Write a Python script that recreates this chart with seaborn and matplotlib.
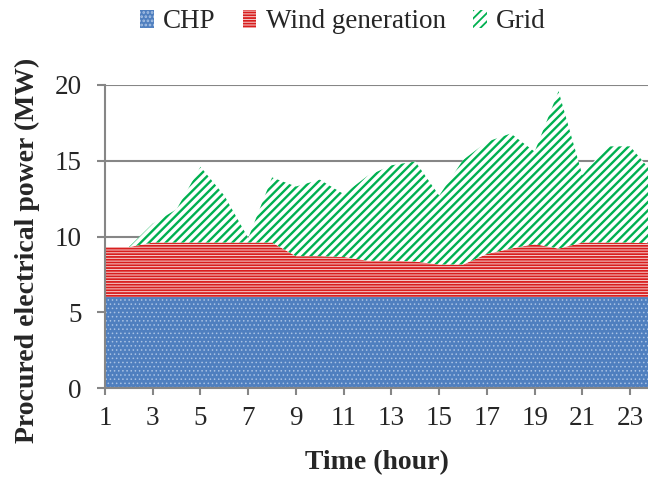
import matplotlib
matplotlib.use("Agg")
import matplotlib.pyplot as plt
import numpy as np
import pandas as pd
import seaborn as sns
from matplotlib.patches import Patch

# Hourly procurement (MW)
hours = list(range(1, 25))
chp = [6.0] * 24
wind = [3.3, 3.3, 3.6, 3.6, 3.6, 3.6, 3.6, 3.6, 2.7, 2.7, 2.65, 2.4,
        2.4, 2.35, 2.15, 2.15, 2.85, 3.2, 3.5, 3.2, 3.6, 3.6, 3.6, 3.55]
grid = [0.0, 0.0, 1.25, 2.2, 5.0, 3.1, 0.3, 4.3, 4.6, 5.05, 4.15, 5.6,
        6.3, 6.6, 4.55, 6.9, 7.4, 7.6, 6.1, 10.4, 4.45, 6.35, 6.35, 4.55]
series_names = ["CHP", "Wind generation", "Grid"]
x_ticks = list(range(1, 24, 2))
y_ticks = [0, 5, 10, 15, 20]

df = pd.DataFrame({"hour": hours, "CHP": chp, "Wind generation": wind, "Grid": grid})

sns.set_theme(style="white")
plt.rcParams["font.family"] = ["Liberation Serif", "DejaVu Serif"]

fig = plt.figure(figsize=(6.48, 4.78), dpi=100)
ax = fig.add_axes([105 / 648, 90 / 478, 1 - 105 / 648, (388 - 85) / 478])

styles = {
    "CHP": dict(facecolor="#4F7FBF", edgecolor="#A9C2E4", hatch="....", hlw=0.6),
    "Wind generation": dict(facecolor="#F6D2D2", edgecolor="#D81E1E", hatch="------", hlw=1.3),
    "Grid": dict(facecolor="#FFFFFF", edgecolor="#00B050", hatch="////", hlw=1.7),
}

base = np.zeros(len(df))
for name in series_names:
    st = styles[name]
    top = base + df[name].to_numpy()
    plt.rcParams["hatch.linewidth"] = st["hlw"]
    coll = ax.fill_between(df["hour"], base, top, facecolor=st["facecolor"],
                           edgecolor=st["edgecolor"], hatch=st["hatch"],
                           linewidth=0, zorder=2)
    if hasattr(coll, "set_hatch_linewidth"):
        coll.set_hatch_linewidth(st["hlw"])
    base = top

ax.set_xlim(1, 1 + (648 - 105) / 23.87)
ax.set_ylim(0, 20)
ax.set_xticks(x_ticks)
ax.set_yticks(y_ticks)

gray = "#868686"
ax.yaxis.grid(True, color=gray, linewidth=1.5)
ax.set_axisbelow(True)
sns.despine(ax=ax, top=True, right=True)
for side in ("left", "bottom"):
    ax.spines[side].set_color(gray)
    ax.spines[side].set_linewidth(1.5)
ax.spines["left"].set_zorder(3)
ax.spines["bottom"].set_zorder(3)

ax.tick_params(axis="y", direction="out", length=6, width=1.5, color=gray,
               labelsize=19.5, pad=11, left=True)
ax.tick_params(axis="x", direction="out", length=5, width=1.5, color=gray,
               labelsize=19.5, pad=8, bottom=True)

ax.set_xlabel("Time (hour)", fontsize=20, fontweight="bold", labelpad=14)
ax.set_ylabel("Procured electrical power (MW)", fontsize=20, fontweight="bold")
ax.yaxis.set_label_coords(-0.12, 0.455)

handles = [Patch(facecolor=styles[n]["facecolor"], edgecolor=styles[n]["edgecolor"],
                 hatch=styles[n]["hatch"], linewidth=0) for n in series_names]
plt.rcParams["hatch.linewidth"] = 1.3
fig.legend(handles, series_names, loc="center", bbox_to_anchor=(343 / 648, 1 - 22 / 478),
           ncol=3, frameon=False, fontsize=19.5, handlelength=0.5, handleheight=0.6,
           handletextpad=0.35, columnspacing=1.0)

fig.savefig("out.png", dpi=100)
